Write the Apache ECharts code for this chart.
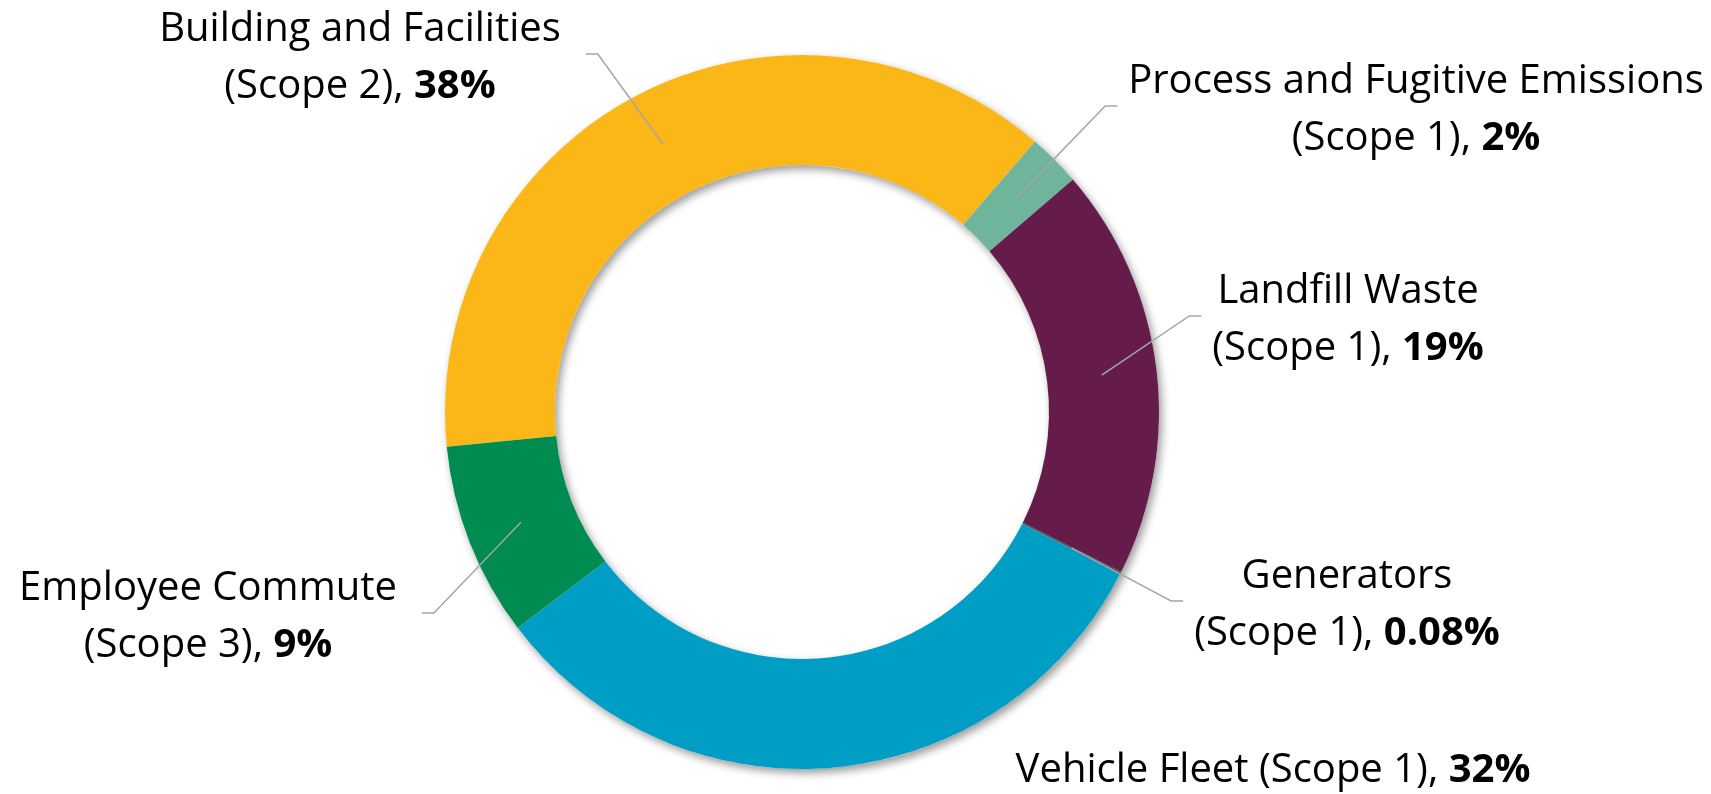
<!DOCTYPE html>
<html>
<head>
<meta charset="utf-8">
<script src="https://cdn.jsdelivr.net/npm/echarts@6/dist/echarts.min.js"></script>
<style>
  html, body { margin: 0; padding: 0; background: #ffffff; }
  #chart { width: 1711px; height: 794px; }
</style>
</head>
<body>
<div id="chart"></div>
<script>
// ---- data ----
const categories = ['Building and Facilities', 'Process and Fugitive Emissions', 'Landfill Waste', 'Generators', 'Vehicle Fleet', 'Employee Commute'];
const scopes = ['(Scope 2)', '(Scope 1)', '(Scope 1)', '(Scope 1)', '(Scope 1)', '(Scope 3)'];
const values = [37.9, 2.4, 18.7, 0.08, 32.2, 8.8];
const pctLabels = ['38%', '2%', '19%', '0.08%', '32%', '9%'];

// ---- style / layout ----
const colors = ['#FBB718', '#6FB59B', '#661C4A', '#4A4A4A', '#009EC4', '#008C50'];
const twoLine = [true, true, true, true, false, true];
const showLine = [true, true, true, true, false, true];
const labelPos = [[360, 58], [1416, 110], [1348, 320], [1347, 605], [1273, 771], [208, 617]];
const cx = 802, cy = 412, innerR = 247, outerR = 357, lineStartR = 302;
const gapLeft = 25, gapRight = 11, seg = 12, lineDy = -4;
const START = -174.4;
const FONT = "'Open Sans', 'Noto Sans', sans-serif";

const chart = echarts.init(document.getElementById('chart'), null, { renderer: 'canvas' });

const ringData = categories.map((c, i) => ({
  name: c,
  value: values[i],
  itemStyle: { color: colors[i] }
}));
const labelData = categories.map((c, i) => ({
  name: c,
  value: values[i],
  labelLine: { show: showLine[i] }
}));

const option = {
  backgroundColor: '#ffffff',
  animation: false,
  series: [
    {
      // ring shadow underlay
      type: 'pie',
      silent: true,
      z: 1,
      center: [cx, cy],
      radius: [innerR, outerR],
      label: { show: false },
      labelLine: { show: false },
      data: [{ value: 1, itemStyle: { color: '#ffffff', shadowBlur: 8, shadowOffsetX: 3, shadowOffsetY: 4, shadowColor: 'rgba(0,0,0,0.4)' } }]
    },
    {
      // coloured ring
      type: 'pie',
      z: 2,
      center: [cx, cy],
      radius: [innerR, outerR],
      startAngle: START,
      clockwise: true,
      label: { show: false },
      labelLine: { show: false },
      itemStyle: { borderWidth: 0 },
      emphasis: { disabled: true },
      data: ringData
    },
    {
      // labels and leader lines on top
      type: 'pie',
      z: 5,
      silent: true,
      center: [cx, cy],
      radius: [innerR, outerR],
      startAngle: START,
      clockwise: true,
      avoidLabelOverlap: false,
      itemStyle: { color: 'rgba(0,0,0,0)', borderWidth: 0 },
      label: {
        show: true,
        position: 'outside',
        color: '#000000',
        fontFamily: FONT,
        fontSize: 40,
        lineHeight: 57,
        formatter: (p) => {
          const i = p.dataIndex;
          if (twoLine[i]) {
            return '{n|' + categories[i] + '}\n{n|' + scopes[i] + ', }{b|' + pctLabels[i] + '}';
          }
          return '{n|' + categories[i] + ' ' + scopes[i] + ', }{b|' + pctLabels[i] + '}';
        },
        rich: {
          n: { fontFamily: FONT, fontSize: 40, lineHeight: 57, color: '#000', align: 'center' },
          b: { fontFamily: FONT, fontSize: 40, lineHeight: 57, color: '#000', fontWeight: 'bold', align: 'center' }
        }
      },
      labelLine: {
        show: true,
        showAbove: true,
        length: 20,
        length2: 10,
        lineStyle: { color: '#A6A6A6', width: 1.5 }
      },
      labelLayout: (p) => {
        const i = p.dataIndex;
        const pos = labelPos[i];
        const out = { x: pos[0], y: pos[1], align: 'center', verticalAlign: 'middle' };
        if (showLine[i] && p.labelLinePoints) {
          const s = p.labelLinePoints[0];
          const k = lineStartR / outerR;
          const start = [cx + (s[0] - cx) * k, cy + (s[1] - cy) * k];
          const left = pos[0] < cx;
          const w = p.labelRect.width;
          const ly = pos[1] + lineDy;
          const endX = left ? pos[0] + w / 2 + gapLeft : pos[0] - w / 2 - gapRight;
          const elbowX = left ? endX + seg : endX - seg;
          out.labelLinePoints = [start, [elbowX, ly], [endX, ly]];
        }
        return out;
      },
      emphasis: { disabled: true },
      data: labelData
    }
  ]
};
chart.setOption(option);
</script>
</body>
</html>
